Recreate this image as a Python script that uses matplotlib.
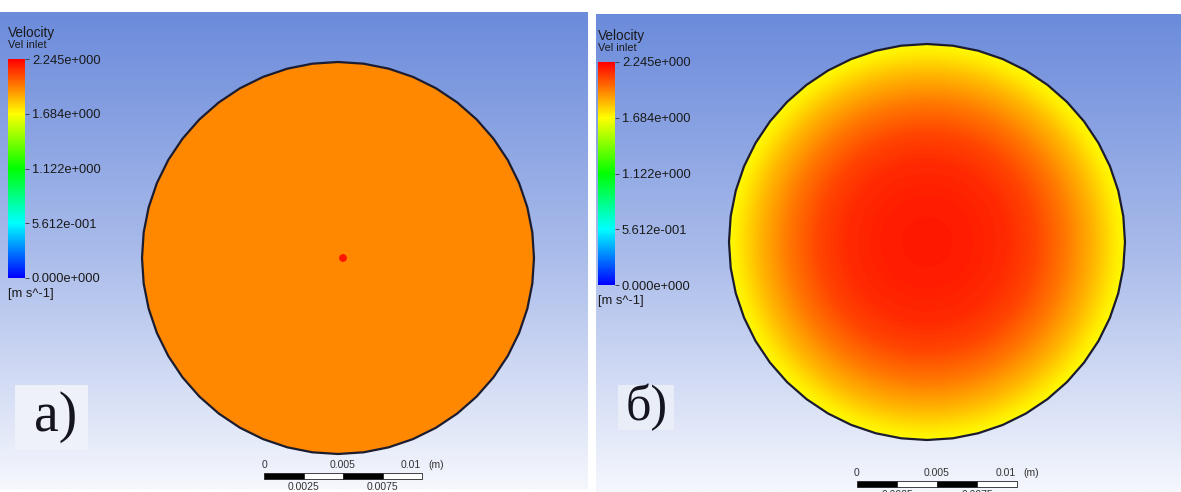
import numpy as np
import matplotlib
matplotlib.use('Agg')
import matplotlib.pyplot as plt
from matplotlib.colors import LinearSegmentedColormap, Normalize
from matplotlib.cm import ScalarMappable
from matplotlib.patches import Rectangle, Polygon

# colour legend of the contour plot
vmin, vmax = 0.0, 2.245
cbar_ticks = [0.0, 0.5612, 1.122, 1.684, 2.245]
cbar_labels = ['0.000e+000', '5.612e-001', '1.122e+000', '1.684e+000', '2.245e+000']

# a) uniform inlet, small faster spot in the centre
vel_uniform = 1.94
vel_spot = 2.20

# б) developed profile, velocity vs r/R
r_frac = [0.0, 0.2, 0.4, 0.55, 0.7, 0.85, 0.95, 1.0]
vel_profile = [2.19, 2.18, 2.15, 2.09, 1.98, 1.84, 1.73, 1.69]

scale_top = ['0', '0.005', '0.01']
scale_bottom = ['0.0025', '0.0075']
panel_tags = ['a)', 'б)']

ansys = LinearSegmentedColormap.from_list(
    'ansys', [(0, '#0000ff'), (0.25, '#00ffff'), (0.5, '#00ff00'),
              (0.75, '#ffff00'), (1.0, '#ff0000')])
norm = Normalize(vmin, vmax)
bg = LinearSegmentedColormap.from_list('bg', ['#6b8bdb', '#a9bbea', '#f5f7fd'])

fig = plt.figure(figsize=(11.81, 4.92), dpi=100)
fig.patch.set_facecolor('white')
ax = fig.add_axes([0, 0, 1, 1])
ax.set_xlim(0, 1181)
ax.set_ylim(492, 0)
ax.axis('off')

grad = np.linspace(0, 1, 256).reshape(-1, 1)
ax.imshow(grad, cmap=bg, aspect='auto', extent=(0, 588, 489, 12), zorder=0)
ax.imshow(grad, cmap=bg, aspect='auto', extent=(596, 1181, 492, 14), zorder=0)


def disc(cx, cy, R, rr, vals):
    tt = np.linspace(0, 2 * np.pi, 49)
    outline = Polygon(np.c_[cx + R * np.cos(tt), cy + R * np.sin(tt)], closed=True,
                      fill=False, ec='#1c1c30', lw=1.6, zorder=3)
    n = 500
    g = np.linspace(-1.02, 1.02, n)
    gx, gy = np.meshgrid(g, g)
    field = np.interp(np.hypot(gx, gy), rr, vals)
    im = ax.imshow(field, cmap=ansys, norm=norm, interpolation='bilinear',
                   extent=(cx - 1.02 * R, cx + 1.02 * R, cy + 1.02 * R, cy - 1.02 * R), zorder=2)
    ax.add_patch(outline)
    clip = Polygon(outline.get_xy(), closed=True, transform=ax.transData)
    im.set_clip_path(clip)


disc(338, 258, 196, [0, 1.0], [vel_uniform, vel_uniform])
ax.add_patch(plt.Circle((343, 258), 3.2, color=ansys(norm(vel_spot)), zorder=4))
disc(927, 242, 198, r_frac, vel_profile)

font = 'Liberation Sans'


def legend_bar(x, ytop, ybot):
    cax = fig.add_axes([x / 1181, (492 - ybot) / 492, 17 / 1181, (ybot - ytop) / 492])
    cb = fig.colorbar(ScalarMappable(norm=norm, cmap=ansys), cax=cax, ticks=cbar_ticks)
    cb.outline.set_visible(False)
    cb.ax.set_yticklabels(cbar_labels, fontsize=9.3, family=font, color='#1a1a1a')
    cb.ax.tick_params(length=3, width=0.6, pad=2, color='#333333')
    ax.text(x, ytop - 26, 'Velocity', fontsize=9.8, family=font, va='center', color='#1a1a1a')
    ax.text(x, ytop - 14, 'Vel inlet', fontsize=7.8, family=font, va='center', color='#1a1a1a')
    ax.text(x, ybot + 16, '[m s^-1]', fontsize=9.3, family=font, va='center', color='#1a1a1a')


legend_bar(8, 59, 278)
legend_bar(598, 62, 285)


def scale_bar(x0, y0, w):
    seg = w / 4
    for i in range(4):
        ax.add_patch(Rectangle((x0 + i * seg, y0), seg, 6, fc='black' if i % 2 == 0 else 'white',
                               ec='#222222', lw=0.6, zorder=5))
    xs = [x0, x0 + 2 * seg, x0 + w - 1]
    has = ['center', 'center', 'right']
    for s, xx, ha in zip(scale_top, xs, has):
        ax.text(xx, y0 - 8, s, fontsize=7.5, family=font, ha=ha, va='center', color='#333333')
    ax.text(x0 + w + 6, y0 - 8, '(m)', fontsize=7.5, family=font, ha='left', va='center',
            color='#333333')
    for i, s in enumerate(scale_bottom):
        ax.text(x0 + (2 * i + 1) * seg, y0 + 14, s, fontsize=7.5, family=font,
                ha='center', va='center', color='#333333')


scale_bar(264, 473, 158)
scale_bar(857, 481, 160)

ax.add_patch(Rectangle((15, 385), 73, 65, fc='#eef1f9', ec='none', zorder=1))
ax.add_patch(Rectangle((618, 385), 56, 45, fc='#e9edf8', ec='none', zorder=1))
ax.text(56, 417, panel_tags[0], fontsize=40, family='Liberation Serif',
        ha='center', va='center', color='#15151f')
ax.text(647, 407, panel_tags[1], fontsize=36, family='Liberation Serif',
        ha='center', va='center', color='#15151f')

fig.savefig('out.png', dpi=100)
